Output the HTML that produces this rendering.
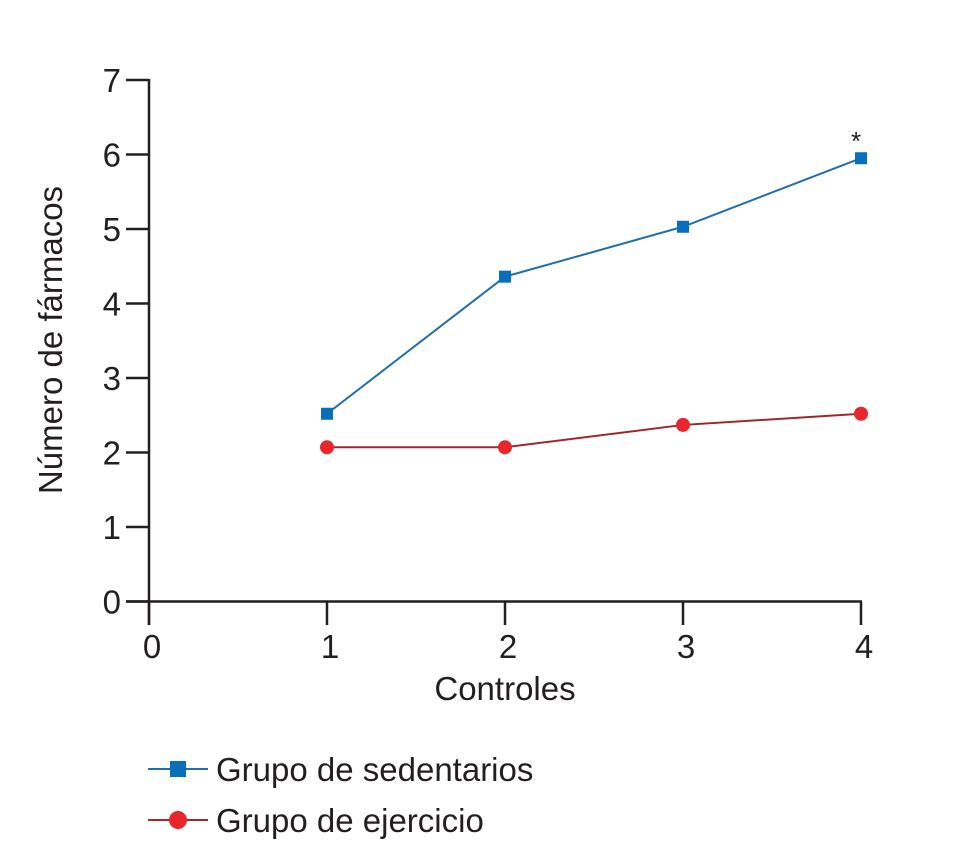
<!DOCTYPE html>
<html><head><meta charset="utf-8"><style>
body{margin:0;background:#fff;}
svg text{font-family:"Liberation Sans",sans-serif;fill:#231f20;}
</style></head><body>
<svg width="954" height="850" xmlns="http://www.w3.org/2000/svg">
<g id="axes"></g>
<g id="series"></g>
<text x="0" y="0" transform="translate(62,340) rotate(-90)" text-anchor="middle" font-size="33">Número de fármacos</text>
<text x="505" y="700" text-anchor="middle" font-size="33">Controles</text>
<g>
<g>
<line x1="148" y1="769" x2="208" y2="769" stroke="#1f6fb0" stroke-width="2"/>
<rect x="170" y="761" width="16" height="16" fill="#0a6fba"/>
<text x="216" y="781" font-size="33">Grupo de sedentarios</text></g>
<g>
<line x1="148" y1="820" x2="208" y2="820" stroke="#a0282a" stroke-width="2"/>
<circle cx="178" cy="820" r="9" fill="#e8262b"/>
<text x="216" y="832" font-size="33">Grupo de ejercicio</text></g>
</g>
</svg>
<script>
const xTicks=[0,1,2,3,4];
const yTicks=[0,1,2,3,4,5,6,7];
const controles=[1,2,3,4];
const sedentarios=[2.52,4.36,5.03,5.95];
const ejercicio=[2.07,2.07,2.37,2.52];
const NS="http://www.w3.org/2000/svg";
const X=v=>149+v*178, Y=v=>601.5-v*74.5;
function mk(t,a,p){const e=document.createElementNS(NS,t);for(const k in a)e.setAttribute(k,a[k]);p.appendChild(e);return e;}
const ax=document.getElementById('axes'), se=document.getElementById('series');
const ya=mk('line',{x1:X(0),y1:Y(7)-1,x2:X(0),y2:625,stroke:'#231f20','stroke-width':2.5},ax);


const xa=mk('line',{x1:126,y1:Y(0),x2:X(4)+1,y2:Y(0),stroke:'#231f20','stroke-width':2.5},ax);


yTicks.forEach(v=>{
 mk('line',{x1:126,y1:Y(v),x2:X(0),y2:Y(v),stroke:'#231f20','stroke-width':2.5},ax);
 const t=mk('text',{x:121,y:Y(v)+12,'text-anchor':'end','font-size':33},ax);t.textContent=v;
 
 
});
xTicks.forEach(v=>{
 mk('line',{x1:X(v),y1:Y(0),x2:X(v),y2:625,stroke:'#231f20','stroke-width':2.5},ax);
 const t=mk('text',{x:X(v)+3,y:658,'text-anchor':'middle','font-size':33},ax);t.textContent=v;
 
 
});
const l1=mk('polyline',{points:controles.map((c,i)=>X(c)+','+Y(sedentarios[i])).join(' '),fill:'none',stroke:'#1f6fb0','stroke-width':2},se);


const l2=mk('polyline',{points:controles.map((c,i)=>X(c)+','+Y(ejercicio[i])).join(' '),fill:'none',stroke:'#a0282a','stroke-width':2},se);


controles.forEach((c,i)=>{
 const r=mk('rect',{x:X(c)-6,y:Y(sedentarios[i])-6,width:12,height:12,fill:'#0a6fba'},se);
 
 
 const p=mk('circle',{cx:X(c),cy:Y(ejercicio[i]),r:7,fill:'#e8262b'},se);
 
 
});
const s=mk('text',{x:X(4)-10,y:Y(sedentarios[3])-8,'font-size':26},se);s.textContent='*';


</script>
</body></html>
